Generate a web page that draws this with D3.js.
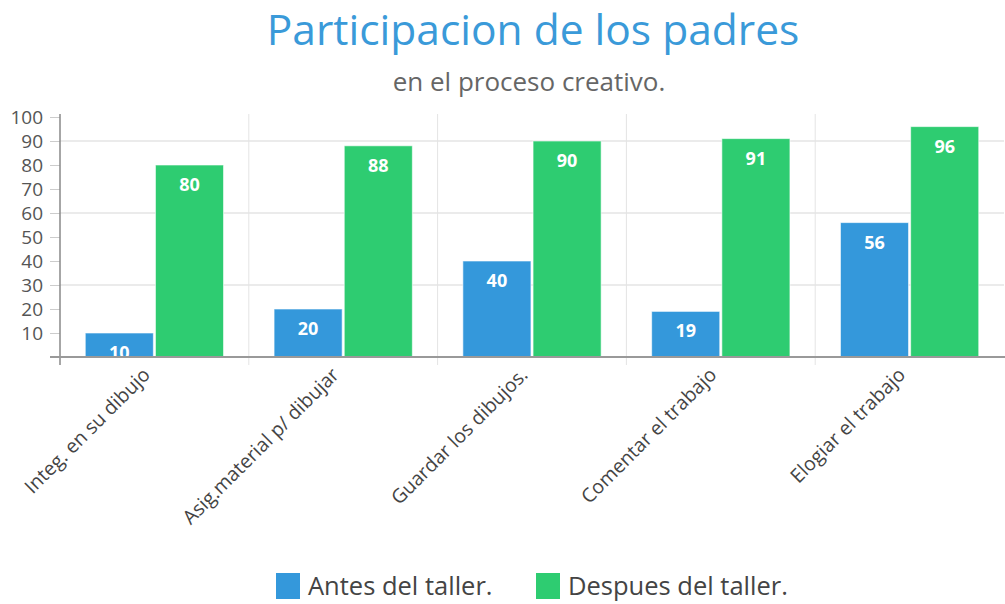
<!DOCTYPE html>
<html><head><meta charset="utf-8">
<script src="https://cdn.jsdelivr.net/npm/d3@7/dist/d3.min.js"></script>
<style>body{margin:0;background:#fff;font-family:"Open Sans",sans-serif;}</style>
</head><body>
<svg id="c" width="1005" height="604"></svg>
<script>
const categories = ["Integ. en su dibujo","Asig.material p/ dibujar","Guardar los dibujos.","Comentar el trabajo","Elogiar el trabajo"];
const seriesNames = ["Antes del taller.","Despues del taller."];
const antes = [10,20,40,19,56];
const despues = [80,88,90,91,96];
const yTicks = [10,20,30,40,50,60,70,80,90,100];
const gridTicks = [30,60,90];
const colors = ["#3498db","#2ecc71"];
(function(){
const svg = d3.select("#c");
const mL = 60, mR = 1004, mT = 117, mB = 357;
const x = d3.scaleBand().domain(categories).range([mL, mR]);
const y = d3.scaleLinear().domain([0,100]).range([mB, mT]);
const x1 = d3.scaleBand().domain(seriesNames).range([0, x.bandwidth()]).paddingInner(0.03).paddingOuter(0.36);

svg.append("text").attr("x",533).attr("y",45).attr("text-anchor","middle")
  .attr("font-size",42.5).attr("fill","#3a9ad9").text("Participacion de los padres");
svg.append("text").attr("x",529).attr("y",91).attr("text-anchor","middle")
  .attr("font-size",26).attr("fill","#666").text("en el proceso creativo.");

svg.append("g").selectAll("line").data(gridTicks).join("line")
  .attr("x1",mL).attr("x2",mR).attr("y1",d=>y(d)).attr("y2",d=>y(d))
  .attr("stroke","#ebebeb").attr("stroke-width",2);
svg.append("g").selectAll("line").data(categories.slice(1)).join("line")
  .attr("x1",d=>x(d)).attr("x2",d=>x(d)).attr("y1",114).attr("y2",365)
  .attr("stroke","#e4e4e4").attr("stroke-width",1);

const yAxis = d3.axisLeft(y).tickValues(yTicks).tickSize(10).tickPadding(7);
const gy = svg.append("g").attr("transform",`translate(${mL},0)`).call(yAxis);
gy.select(".domain").remove();
gy.selectAll(".tick line").attr("stroke","#ccc");
gy.selectAll(".tick text").attr("font-size",19).attr("fill","#555").attr("font-family","Open Sans");
svg.append("line").attr("x1",mL).attr("x2",mL).attr("y1",114).attr("y2",365).attr("stroke","#888").attr("stroke-width",1.5);

const data = categories.map((c,i)=>({c, vals:[antes[i],despues[i]]}));
const groups = svg.append("g").selectAll("g").data(data).join("g")
  .attr("transform",d=>`translate(${x(d.c)},0)`);
groups.selectAll("rect").data(d=>d.vals.map((v,j)=>({v,s:seriesNames[j],j}))).join("rect")
  .attr("x",d=>x1(d.s)).attr("width",x1.bandwidth())
  .attr("y",d=>y(d.v)).attr("height",d=>mB-y(d.v))
  .attr("fill",d=>colors[d.j]).attr("stroke","rgba(255,255,255,0.6)").attr("stroke-width",1);
groups.selectAll("text").data(d=>d.vals.map((v,j)=>({v,s:seriesNames[j],j}))).join("text")
  .attr("x",d=>x1(d.s)+x1.bandwidth()/2).attr("y",d=>y(d.v)+26)
  .attr("text-anchor","middle").attr("font-size",18).attr("font-weight","bold").attr("fill","#fff")
  .text(d=>d.v);

svg.append("line").attr("x1",50).attr("x2",1005).attr("y1",mB).attr("y2",mB).attr("stroke","#999").attr("stroke-width",2);

svg.append("g").selectAll("text").data(categories).join("text")
  .attr("transform",d=>`translate(${x(d)+x.bandwidth()/2-3},${376}) rotate(-45)`)
  .attr("text-anchor","end").attr("font-size",19.5).attr("fill","#444").text(d=>d);

const lg = svg.append("g");
const lx = [276, 536];
seriesNames.forEach((s,i)=>{
  lg.append("rect").attr("x",lx[i]).attr("y",573).attr("width",24).attr("height",26).attr("fill",colors[i]);
  lg.append("text").attr("x",lx[i]+32).attr("y",595).attr("font-size",25.5).attr("fill","#444").text(s);
});
})();
</script>
</body></html>
